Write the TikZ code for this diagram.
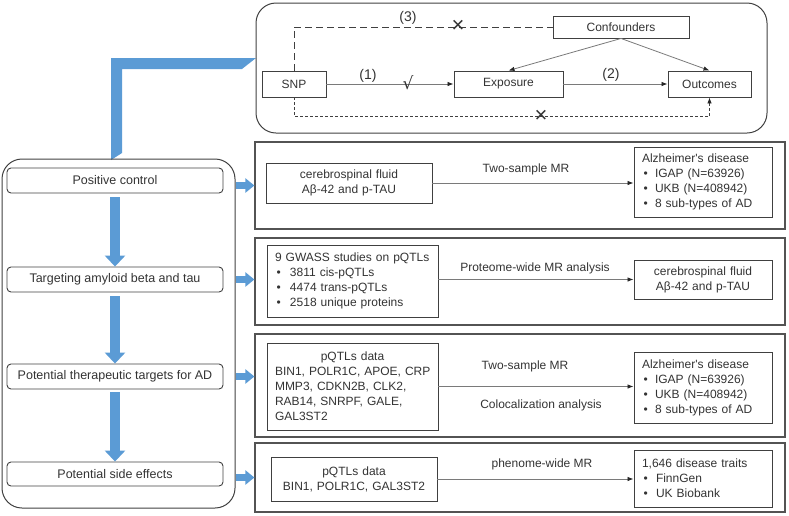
\documentclass[tikz,border=0pt]{standalone}
\usepackage{fontspec}
\setmainfont{Liberation Sans}
\newfontfamily\symfont{DejaVu Sans}
\usetikzlibrary{arrows.meta}
\definecolor{mblue}{HTML}{5B9BD5}
\definecolor{ink}{HTML}{333333}
\definecolor{edgec}{HTML}{404040}
\definecolor{connc}{HTML}{7A7A7A}
\newcommand{\bul}[1]{\makebox[#1][l]{\hspace{1.5pt}•}}
\begin{document}
\begin{tikzpicture}[x=1pt,y=-1pt,
  every node/.style={text=ink},
  cont/.style={draw=edgec, line width=1pt, rounded corners=20pt, inner sep=0pt},
  rbox/.style={draw=edgec!90, line width=1.2pt, inner sep=0pt},
  sbox/.style={draw=edgec, line width=0.9pt, inner sep=0pt, font=\fontsize{12}{15}\selectfont},
  lbl/.style={font=\fontsize{12}{15}\selectfont, inner sep=0pt},
  numlbl/.style={font=\fontsize{14}{16}\selectfont, inner sep=0pt},
  stagebox/.style={draw=edgec, line width=0.9pt, rounded corners=4pt, minimum width=216pt, minimum height=25pt, inner sep=0pt, font=\fontsize{12.5}{15}\selectfont},
  lt/.style={draw=edgec, line width=0.9pt, inner ysep=0pt, inner xsep=8pt, align=left, font=\fontsize{12}{15}\selectfont},
  ct/.style={draw=edgec, line width=0.9pt, inner ysep=0pt, inner xsep=2pt, align=center, font=\fontsize{12}{15}\selectfont},
  conn/.style={draw=connc, line width=0.8pt, -{Latex[length=6pt,width=4.5pt,color=black!85]}},
  varrow/.style={draw=mblue, line width=10pt, -{Triangle[length=11pt,width=20pt]}},
  harrow/.style={draw=mblue, line width=7pt, -{Triangle[length=9pt,width=14pt]}},
  xmark/.style={font=\fontsize{22}{22}\selectfont, inner sep=0pt},
]
\useasboundingbox (0,0) rectangle (789,515);

% blue elbow band
\fill[mblue] (111,160) -- (111,58) -- (256,58) -- (242,69) -- (122,69) -- (122,153) -- cycle;

% containers
\node[cont, minimum width=511pt, minimum height=130pt] (topc) at (511.5,68) {};
\node[cont, minimum width=233pt, minimum height=349pt] (leftc) at (118.5,333.5) {};
\node[rbox, minimum width=530pt, minimum height=87pt] (R1) at (520,185.5) {};
\node[rbox, minimum width=530pt, minimum height=87pt] (R2) at (520,281.5) {};
\node[rbox, minimum width=530pt, minimum height=103pt] (R3) at (520,385.5) {};
\node[rbox, minimum width=530pt, minimum height=69pt] (R4) at (520,477.5) {};

% top diagram
\node[sbox, minimum width=64pt, minimum height=26pt] (snp) at (294,84) {SNP};
\node[sbox, minimum width=109pt, minimum height=26pt] (exp) at (508.5,84) {Exposure};
\node[sbox, minimum width=83pt, minimum height=26pt] (out) at (709.5,84) {Outcomes};
\node[sbox, minimum width=136pt, minimum height=22pt] (conf) at (621,27) {Confounders};

\draw[conn] (snp) -- (exp);
\draw[conn] (exp) -- (out);
\draw[conn] (conf.south) -- (exp.north);
\draw[conn] (conf.south) -- (out.north);
\draw[draw=edgec, line width=0.8pt, dash pattern=on 7pt off 4pt] (snp.north) |- (conf.west);
\draw[draw=edgec, line width=0.7pt, dash pattern=on 3pt off 2pt, -{Latex[length=6pt,width=4.5pt,color=black!85]}] (snp.south) -- ++(0,19) -| (out.south);

\node[numlbl] (n1) at (368,76) {(1)};
\node[numlbl] (n2) at (611,75) {(2)};
\node[numlbl] (n3) at (408,18) {(3)};
\node[font=\symfont\fontsize{17}{17}\selectfont, inner sep=0pt] (ok) at (408,83) {√};
\node[xmark] (x1) at (458,26) {×};
\node[xmark] (x2) at (541,116) {×};

% left stages
\node[stagebox] (pc) at (115,180.5) {Positive control};
\node[stagebox] (tab) at (115,279.5) {Targeting amyloid beta and tau};
\node[stagebox] (pot) at (115,376.5) {Potential therapeutic targets for AD};
\node[stagebox, minimum height=24pt] (side) at (115,474) {Potential side effects};

\draw[varrow] ([yshift=-4pt]pc.south) -- (tab.north);
\draw[varrow] ([yshift=-4pt]tab.south) -- (pot.north);
\draw[varrow] ([yshift=-3pt]pot.south) -- (side.north);

\draw[harrow] (leftc.east |- R1.west) -- (R1.west);
\draw[harrow] (leftc.east |- tab.east) -- (R2.west |- tab.east);
\draw[harrow] (leftc.east |- pot.east) -- (R3.west |- pot.east);
\draw[harrow] (leftc.east |- R4.west) -- (R4.west);

% row 1
\node[ct, text width=162pt, minimum height=40pt] (csf1) at (349,183) {cerebrospinal fluid\\Aβ-42 and p-TAU};
\node[lt, text width=122pt, minimum height=70pt] (ad1) at (703,182) {Alzheimer\textquotesingle s disease\\\bul{13pt}IGAP (N=63926)\\\bul{13pt}UKB (N=408942)\\\bul{13pt}8 sub-types of AD};
\draw[conn] (csf1.east) -- (ad1.west |- csf1.east);
\node[lbl] (m1) at (526,169) {Two-sample MR};

% row 2
\node[lt, text width=155pt, minimum height=72pt] (gw) at (352.5,281) {\mbox{9 GWASS studies on pQTLs}\\\bul{15pt}3811 cis-pQTLs\\\bul{15pt}4474 trans-pQTLs\\\bul{15pt}2518 unique proteins};
\node[ct, text width=134pt, minimum height=39pt] (csf2) at (703,279.5) {cerebrospinal fluid\\Aβ-42 and p-TAU};
\draw[conn] (gw.east |- csf2.west) -- (csf2.west);
\node[lbl] (m2) at (535,268) {Proteome-wide MR analysis};

% row 3
\node[lt, text width=155pt, minimum height=87pt] (pq3) at (352.5,386.5) {\makebox[155pt]{pQTLs data}\\\mbox{BIN1, POLR1C, APOE, CRP}\\\mbox{MMP3, CDKN2B, CLK2,}\\\mbox{RAB14, SNRPF, GALE,}\\GAL3ST2};
\node[lt, text width=122pt, minimum height=71pt] (ad3) at (703,387.5) {Alzheimer\textquotesingle s disease\\\bul{13pt}IGAP (N=63926)\\\bul{13pt}UKB (N=408942)\\\bul{13pt}8 sub-types of AD};
\draw[conn] (pq3.east) -- (ad3.west |- pq3.east);
\node[lbl] (m3) at (525,366) {Two-sample MR};
\node[lbl] (m3b) at (541,405) {Colocalization analysis};

% row 4
\node[ct, text width=162pt, minimum height=44pt] (pq4) at (354,479) {pQTLs data\\BIN1, POLR1C, GAL3ST2};
\node[lt, text width=122pt, minimum height=57pt] (o4) at (703,478.5) {1,646 disease traits\\\bul{14pt}FinnGen\\\bul{14pt}UK Biobank};
\draw[conn] (pq4.east) -- (o4.west |- pq4.east);
\node[lbl] (m4) at (542,464) {phenome-wide MR};
\end{tikzpicture}
\end{document}
